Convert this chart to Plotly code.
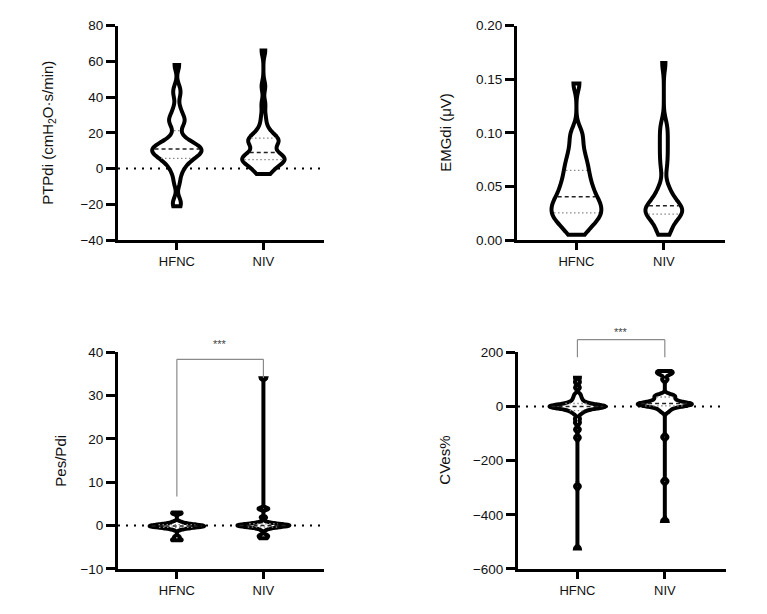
import numpy as np
import plotly.graph_objects as go

# ---------------- data ----------------
groups = ["HFNC", "NIV"]

ptpdi_hfnc = [-21, -18, -8, -3, 0, 2, 4, 5, 6, 7, 8, 8, 9, 10, 10, 11, 11, 12, 12, 13,
              14, 15, 16, 20, 25, 26, 28, 30, 34, 41, 45, 58]
ptpdi_niv = [-3, -2, -1, 1, 2, 3, 4, 4, 5, 5, 5, 6, 6, 7, 7, 8, 9, 11, 13, 14, 15, 15,
             16, 16, 17, 18, 19, 21, 24, 29, 36, 46, 66]

emgdi_hfnc = [0.005, 0.009, 0.014, 0.017, 0.019, 0.021, 0.023, 0.025, 0.027, 0.029,
              0.031, 0.033, 0.035, 0.037, 0.039, 0.042, 0.045, 0.048, 0.051, 0.054,
              0.058, 0.062, 0.066, 0.070, 0.075, 0.080, 0.087, 0.095, 0.102, 0.146]
emgdi_niv = [0.005, 0.006, 0.010, 0.015, 0.018, 0.020, 0.022, 0.024, 0.025, 0.026,
             0.027, 0.028, 0.029, 0.030, 0.031, 0.033, 0.035, 0.037, 0.040, 0.043,
             0.047, 0.052, 0.066, 0.074, 0.081, 0.088, 0.095, 0.102, 0.109, 0.165]

pespdi_hfnc = [-3.4, -3.2, -2.6, -0.9, -0.6, -0.5, -0.4, -0.3, -0.3, -0.2, -0.2, -0.1,
               -0.1, 0.0, 0.0, 0.1, 0.1, 0.2, 0.3, 0.4, 0.6, 0.9, 2.8, 3.0]
pespdi_niv = [-2.9, -2.5, -2.2, -0.9, -0.5, -0.4, -0.3, -0.2, -0.1, -0.1, 0.0, 0.0, 0.1,
              0.1, 0.2, 0.2, 0.3, 0.4, 0.5, 0.8, 1.9, 3.8, 4.0, 34.0]

cves_hfnc = [-525, -295, -115, -85, -60, -45, -27, -20, -15, -11, -8, -6, -4, -3, -2, -1,
             0, 0, 1, 2, 3, 4, 6, 8, 11, 15, 20, 27, 35, 45, 70, 90, 106]
cves_niv = [-423, -276, -113, -20, -12, -6, -2, 1, 3, 5, 6, 7, 8, 9, 10, 11, 12, 14, 16,
            19, 22, 26, 30, 34, 38, 41, 44, 100, 118, 124, 128, 131]

y_titles = ["PTPdi (cmH<sub>2</sub>O·s/min)", "EMGdi (μV)", "Pes/Pdi", "CVes%"]
y_ranges = [[-40, 80], [0, 0.20], [-10, 40], [-600, 200]]
y_dticks = [20, 0.05, 10, 200]
sig_label = "***"
# significance brackets: (panel index, left-leg bottom, bar level, right-leg bottom)
sig_brackets = [(2, 6.7, 38.4, 34.1), (3, 182, 247, 182)]
sig_text_level = [42, 276]

# ---------------- styles / layout ----------------
panel_data = [[ptpdi_hfnc, ptpdi_niv], [emgdi_hfnc, emgdi_niv],
              [pespdi_hfnc, pespdi_niv], [cves_hfnc, cves_niv]]
bandwidths = [3.0, 0.007, 0.25, 6.0]
violin_widths = [[0.57, 0.49], [0.57, 0.42], [0.63, 0.60], [0.64, 0.62]]
zero_line = [True, False, True, True]
tickformats = ["", ".2f", "", ""]

W, H = 767, 614
x_dom_px = [(118, 324), (517, 725), (118, 324), (518, 726)]
y_dom_px = [(19, 239), (19, 239), (354, 576), (354, 576)]
title_x_px = [49, 446, 61, 445]
x_range = [-0.68, 1.70]

FONT = "Liberation Sans, Arial, sans-serif"

fig = go.Figure()


def kde_halfwidth(vals, bw, width, ys):
    v = np.asarray(vals, float)
    lo, hi = v.min(), v.max()
    n = int(np.ceil((hi - lo) / (bw / 3.0)))
    grid = np.linspace(lo, hi, n + 1)

    def dens(t):
        t = np.atleast_1d(np.asarray(t, float))
        return np.exp(-0.5 * ((t[:, None] - v[None, :]) / bw) ** 2).sum(axis=1)

    fmax = dens(grid).max()
    return (width / 2.0) * dens(ys) / fmax


annotations = []
shapes = []
layout_axes = {}

for k in range(4):
    sfx = "" if k == 0 else str(k + 1)
    xa, ya = "x" + sfx, "y" + sfx
    for j, vals in enumerate(panel_data[k]):
        w = violin_widths[k][j]
        fig.add_trace(go.Violin(
            y=vals, x0=j, name=groups[j], xaxis=xa, yaxis=ya,
            width=w, bandwidth=bandwidths[k], spanmode="hard",
            scalemode="width", scalegroup=f"p{k}g{j}", points=False,
            line=dict(color="black", width=4), fillcolor="white",
            box_visible=False, meanline_visible=False,
            hoverinfo="skip", showlegend=False))
        # median and quartile lines
        q1, med, q3 = np.percentile(vals, [25, 50, 75])
        hws = kde_halfwidth(vals, bandwidths[k], w, [q1, med, q3])
        for q, hw, style in zip([q1, med, q3], hws, ["q", "m", "q"]):
            hw = max(hw - 0.024, 0)
            if style == "m":
                ln = dict(color="#222222", width=1.5, dash="4px,3px")
            else:
                ln = dict(color="#888888", width=1.3, dash="1.5px,2.5px")
            fig.add_trace(go.Scatter(
                x=[j - hw, j + hw], y=[q, q], mode="lines", line=ln,
                xaxis=xa, yaxis=ya, hoverinfo="skip", showlegend=False))

    x0, x1 = x_dom_px[k]
    y0, y1 = y_dom_px[k]
    layout_axes["xaxis" + sfx] = dict(
        domain=[x0 / W, x1 / W], anchor=ya, range=x_range, type="linear",
        showline=True, linewidth=3, linecolor="black", mirror=False,
        ticks="outside", ticklen=7, tickwidth=2.5, tickcolor="black",
        tickvals=[0, 1], ticktext=groups, showgrid=False, zeroline=False,
        tickfont=dict(family=FONT, size=13, color="#111111"), fixedrange=True)
    layout_axes["yaxis" + sfx] = dict(
        domain=[1 - y1 / H, 1 - y0 / H], anchor=xa, range=y_ranges[k],
        showline=True, linewidth=3, linecolor="black",
        ticks="outside", ticklen=9, tickwidth=2.5, tickcolor="black",
        tick0=y_ranges[k][0], dtick=y_dticks[k], tickformat=tickformats[k],
        showgrid=False, zeroline=False,
        tickfont=dict(family=FONT, size=13.5, color="#111111"), fixedrange=True)

    annotations.append(dict(
        text=y_titles[k], textangle=-90, xref="paper", yref="paper",
        x=title_x_px[k] / W, y=1 - (y0 + y1) / 2 / H, xanchor="center",
        yanchor="middle", showarrow=False,
        font=dict(family=FONT, size=15, color="#111111")))

    if zero_line[k]:
        shapes.append(dict(type="line", xref=xa + " domain", yref=ya,
                           x0=0, x1=1, y0=0, y1=0, layer="below",
                           line=dict(color="black", width=2, dash="2px,6px")))

for (k, lb, top, rb), tl in zip(sig_brackets, sig_text_level):
    sfx = "" if k == 0 else str(k + 1)
    xa, ya = "x" + sfx, "y" + sfx
    r0, r1 = y_ranges[k]
    frac = lambda v: (v - r0) / (r1 - r0)
    ln = dict(color="#8a8a8a", width=1.2)
    yr = ya + " domain"
    shapes.append(dict(type="line", xref=xa, yref=yr, x0=0, x1=0,
                       y0=frac(lb), y1=frac(top), line=ln))
    shapes.append(dict(type="line", xref=xa, yref=yr, x0=0, x1=1,
                       y0=frac(top), y1=frac(top), line=ln))
    shapes.append(dict(type="line", xref=xa, yref=yr, x0=1, x1=1,
                       y0=frac(rb), y1=frac(top), line=ln))
    annotations.append(dict(text=sig_label, xref=xa, yref=yr, x=0.5, y=frac(tl),
                            showarrow=False, xanchor="center", yanchor="middle",
                            font=dict(family=FONT, size=11, color="#444444")))

fig.update_layout(
    width=W, height=H, margin=dict(l=0, r=0, t=0, b=0),
    paper_bgcolor="white", plot_bgcolor="white",
    showlegend=False, annotations=annotations, shapes=shapes,
    font=dict(family=FONT, color="#111111"),
    **layout_axes)

fig.write_html("out.html", config={"displayModeBar": False},
               post_script="document.body.style.margin='0';"
                           "document.body.style.overflow='hidden';")
